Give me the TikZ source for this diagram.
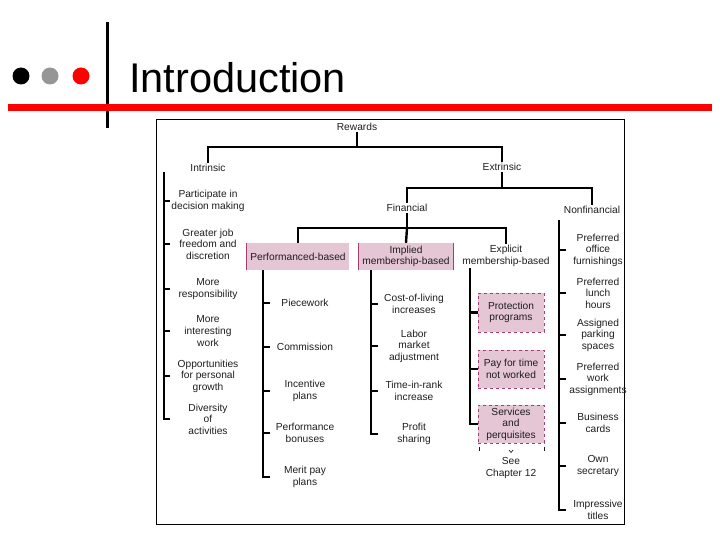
\documentclass[tikz,border=0pt]{standalone}
\usepackage{fontspec}
\setmainfont{Liberation Sans}
\definecolor{pinkfill}{RGB}{228,198,213}
\definecolor{pinkedge}{RGB}{165,60,115}
\definecolor{txt}{RGB}{30,30,30}
\definecolor{dotgray}{RGB}{150,150,150}
\tikzset{
  tree/.style={line width=2.4pt, black},
  lbl/.style={font=\fontsize{10.2}{11.6}\selectfont, align=center, inner sep=1pt, text=txt},
  solidbox/.style={lbl, fill=pinkfill, minimum height=27pt},
  dashbox/.style={lbl, fill=pinkfill, draw=pinkedge, dashed, line width=0.8pt, minimum width=66pt, minimum height=38pt},
  boxedge/.style={pinkedge, line width=1pt},
}
\begin{document}
\begin{tikzpicture}[x=1pt,y=-1pt]
\useasboundingbox (0,0) rectangle (720,540);
% title area
\fill[black] (21,76) circle[radius=8.5pt];
\fill[dotgray] (50,76) circle[radius=8.5pt];
\fill[red] (81,76) circle[radius=8.5pt];
\draw[line width=3pt] (107,22) -- (107,128);
\fill[red] (8,104) rectangle (712,111);
\node[anchor=base west, inner sep=0pt, font=\fontsize{41.5}{44}\selectfont] (title) at (129,93) {Introduction};
% frame
\draw[line width=0.9pt] (156,119) rectangle (624,524);
% top levels
\node[lbl] (rewards) at (357,127) {Rewards};
\node[lbl] (intrinsic) at (208,168) {Intrinsic};
\node[lbl] (extrinsic) at (502,167) {Extrinsic};
\node[lbl] (financial) at (407,208) {Financial};
\node[lbl] (nonfin) at (592,210) {Nonfinancial};
\node[solidbox, minimum width=102pt] (perfbox) at (298,256.5) {Performanced-based};
\node[solidbox, minimum width=94pt] (implbox) at (406,256.5) {Implied\\membership-based};
\node[lbl] (explicit) at (506,256) {Explicit\\membership-based};
\draw[boxedge] (perfbox.north west) -- (perfbox.south west);
\draw[boxedge] (implbox.north west) -- (implbox.south west);
\draw[boxedge] (implbox.north east) -- (implbox.south east);
% tree connectors
\coordinate (hr) at (357,147);
\draw[tree] (rewards.south) -- (hr);
\draw[tree] (intrinsic.north) |- (hr) -| (extrinsic.north);
\coordinate (he) at (502,188);
\draw[tree] (extrinsic.south) -- (he);
\draw[tree] (financial.north) |- (he) -| (nonfin.north);
\coordinate (hf) at (407,228);
\draw[tree] (financial.south) -- (hf);
\draw[tree] (perfbox.north) |- (hf) -| (explicit.north);
\draw[tree] (hf) -- (implbox.north);
% intrinsic list
\node[lbl] (i1) at (208,201) {Participate in\\decision making};
\node[lbl] (i2) at (208,244) {Greater job\\freedom and\\discretion};
\node[lbl] (i3) at (208,289) {More\\responsibility};
\node[lbl] (i4) at (208,331) {More\\interesting\\work};
\node[lbl] (i5) at (208,376) {Opportunities\\for personal\\growth};
\node[lbl] (i6) at (208,419) {Diversity\\of\\activities};
\coordinate (ibx) at (164,0);
\coordinate (ibtop) at (164,172);
\draw[tree] (ibtop) -- (ibx |- i6) -- ++(6,0);
\foreach \n in {i1,i2,i3,i4,i5} \draw[tree] (ibx |- \n) -- ++(6,0);
% performance list
\node[lbl] (pf1) at (305,303) {Piecework};
\node[lbl] (pf2) at (305,347) {Commission};
\node[lbl] (pf3) at (305,391) {Incentive\\plans};
\node[lbl] (pf4) at (305,433) {Performance\\bonuses};
\node[lbl] (pf5) at (305,477) {Merit pay\\plans};
\coordinate (pbx) at (263,0);
\draw[tree] (perfbox.south -| pbx) -- (pbx |- pf5) -- ++(7,0);
\foreach \n in {pf1,pf2,pf3,pf4} \draw[tree] (pbx |- \n) -- ++(7,0);
% implied list
\node[lbl] (im1) at (414,304) {Cost-of-living\\increases};
\node[lbl] (im2) at (414,346) {Labor\\market\\adjustment};
\node[lbl] (im3) at (414,391) {Time-in-rank\\increase};
\node[lbl] (im4) at (414,434) {Profit\\sharing};
\coordinate (mbx) at (371,0);
\draw[tree] (implbox.south -| mbx) -- (mbx |- im4) -- ++(7,0);
\foreach \n in {im1,im2,im3} \draw[tree] (mbx |- \n) -- ++(7,0);
% explicit list
\node[dashbox, minimum height=39pt] (prot) at (511,312.5) {Protection\\programs};
\node[dashbox] (pay) at (511,369) {Pay for time\\not worked};
\node[dashbox] (svc) at (511,424) {Services\\and\\perquisites};
\coordinate (ebx) at (470,0);
\draw[tree] (explicit.south -| ebx) -- (ebx |- svc) -- (svc.west);
\foreach \n in {prot,pay} \draw[tree] (ebx |- \n) -- (\n.west);
\draw[line width=0.7pt, txt] (479,447) -- (479,451);
\draw[line width=0.7pt, txt] (544,447) -- (544,451);
\draw[line width=0.7pt, txt] (509,450) -- (511,452.5) -- (513,450);
\node[lbl] (see) at (511,468) {See\\Chapter 12};
% nonfinancial list
\node[lbl] (n1) at (598,250) {Preferred\\office\\furnishings};
\node[lbl] (n2) at (598,293) {Preferred\\lunch\\hours};
\node[lbl] (n3) at (598,335) {Assigned\\parking\\spaces};
\node[lbl] (n4) at (598,379) {Preferred\\work\\assignments};
\node[lbl] (n5) at (598,423) {Business\\cards};
\node[lbl] (n6) at (598,466) {Own\\secretary};
\node[lbl] (n7) at (598,510) {Impressive\\titles};
\coordinate (nbx) at (559,0);
\coordinate (nbtop) at (559,220);
\draw[tree] (nbtop) -- (nbx |- n7) -- ++(7,0);
\foreach \n in {n1,n2,n3,n4,n5,n6} \draw[tree] (nbx |- \n) -- ++(7,0);
\end{tikzpicture}
\end{document}
